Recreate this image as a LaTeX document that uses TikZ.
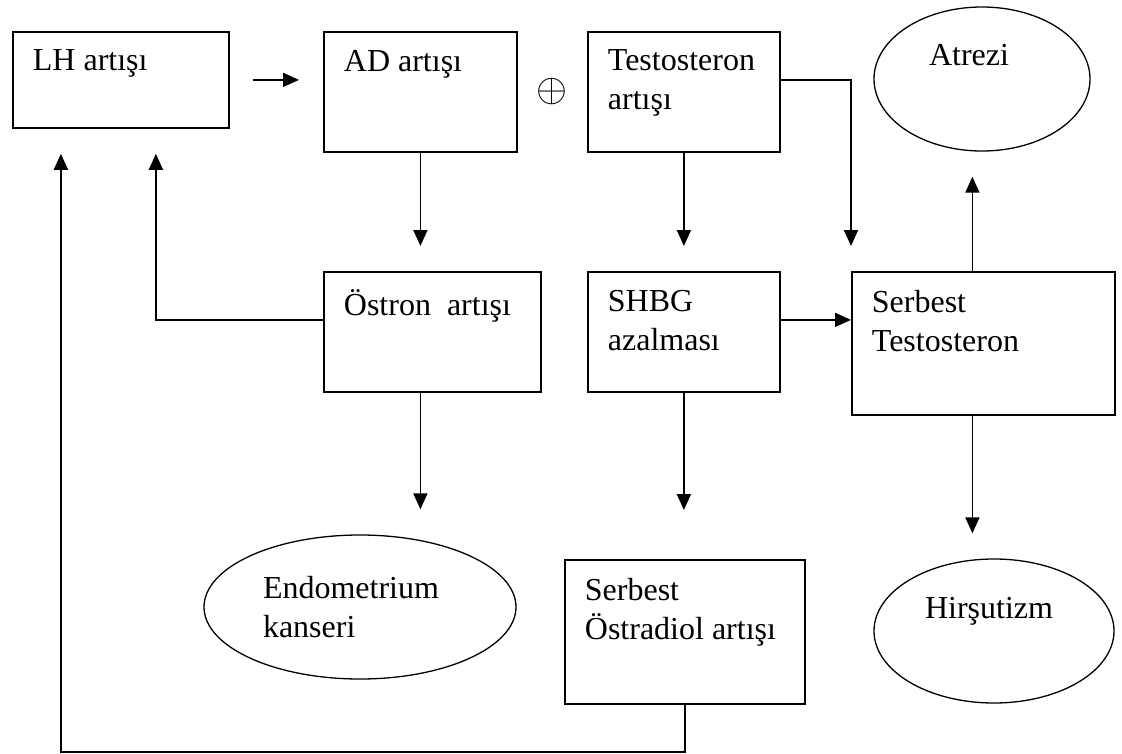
\documentclass[tikz,border=0pt]{standalone}
\usepackage{fontspec}
\setmainfont{Liberation Serif}
\usetikzlibrary{arrows.meta,shapes.geometric}
\tikzset{
  kutu/.style={draw, line width=1.8pt, anchor=north west, inner xsep=20pt, inner ysep=18pt},
  sonuc/.style={draw, ellipse, line width=1.3pt, inner sep=0pt},
  ok/.style={line width=1.8pt, -{Triangle[length=16pt,width=14pt]}},
}
\newcommand{\kutuyazi}[3]{\parbox[c][#2][t]{#1}{\raggedright #3}}

\begin{document}
\begin{tikzpicture}[x=1pt, y=-1pt, every node/.style={font=\fontsize{32}{39}\selectfont}]
  \useasboundingbox (0,0) rectangle (1122,753);
  % kutular
  \node[kutu] (lh)       at (12,31)   {\kutuyazi{176pt}{60pt}{LH artışı}};
  \node[kutu] (ad)       at (323,31)  {\kutuyazi{153pt}{84pt}{AD artışı}};
  \node[kutu] (testo)    at (587,31)  {\kutuyazi{152pt}{84pt}{Testosteron\\artışı}};
  \node[kutu] (ostron)   at (323,271) {\kutuyazi{177pt}{84pt}{Östron\ \ artışı}};
  \node[kutu] (shbg)     at (587,271) {\kutuyazi{152pt}{84pt}{SHBG\\azalması}};
  \node[kutu] (sertesto) at (851,271) {\kutuyazi{223pt}{107pt}{Serbest\\Testosteron}};
  \node[kutu] (serost)   at (564,559) {\kutuyazi{200pt}{108pt}{Serbest\\Östradiol artışı}};
  \node (arti) at (552,92) {\scalebox{1.6}{$\oplus$}};
  % sonuclar
  \node[sonuc, minimum width=216pt, minimum height=144pt, text height=21pt, text depth=48pt] (atrezi) at (982,79) {Atrezi\hspace*{26pt}};
  \node[sonuc, minimum width=312pt, minimum height=144pt, align=left] (endo) at (360,607) {Endometrium\hspace*{18pt}\\kanseri};
  \node[sonuc, minimum width=240pt, minimum height=144pt, text height=21pt, text depth=47pt] (hirsut) at (994,631) {Hirşutizm\hspace*{10pt}};
  % oklar
  \draw[ok, shorten <=23pt, shorten >=24pt] (lh.east) -- (lh.east -| ad.west);
  \draw[ok, shorten >=25pt] (ad.south) -- (ad.south |- ostron.north);
  \draw[ok, shorten >=25pt] (testo.south) -- (testo.south |- shbg.north);
  \draw[ok, shorten >=25pt] ([yshift=12pt]testo.east) -| (sertesto.north west);
  \draw[ok, shorten >=25pt] ([xshift=-11pt]sertesto.north) -- ([xshift=-11pt]sertesto.north |- atrezi.south);
  \draw[ok] ([yshift=12pt]shbg.east) -- ([yshift=12pt]shbg.east -| sertesto.west);
  \draw[ok, shorten >=25pt] ([yshift=12pt]ostron.west) -| ([xshift=35pt]lh.south);
  \draw[ok, shorten >=25pt] (ostron.south -| ad.south) -- (ad.south |- endo.north);
  \draw[ok, shorten >=49pt] (shbg.south) -- (shbg.south |- serost.north);
  \draw[ok, shorten >=25pt] ([xshift=-11pt]sertesto.south) -- ([xshift=-11pt]sertesto.south |- hirsut.north);
  \draw[ok, shorten >=25pt] (serost.south) -- ++(0,47) -| ([xshift=-60pt]lh.south);
\end{tikzpicture}
\end{document}
